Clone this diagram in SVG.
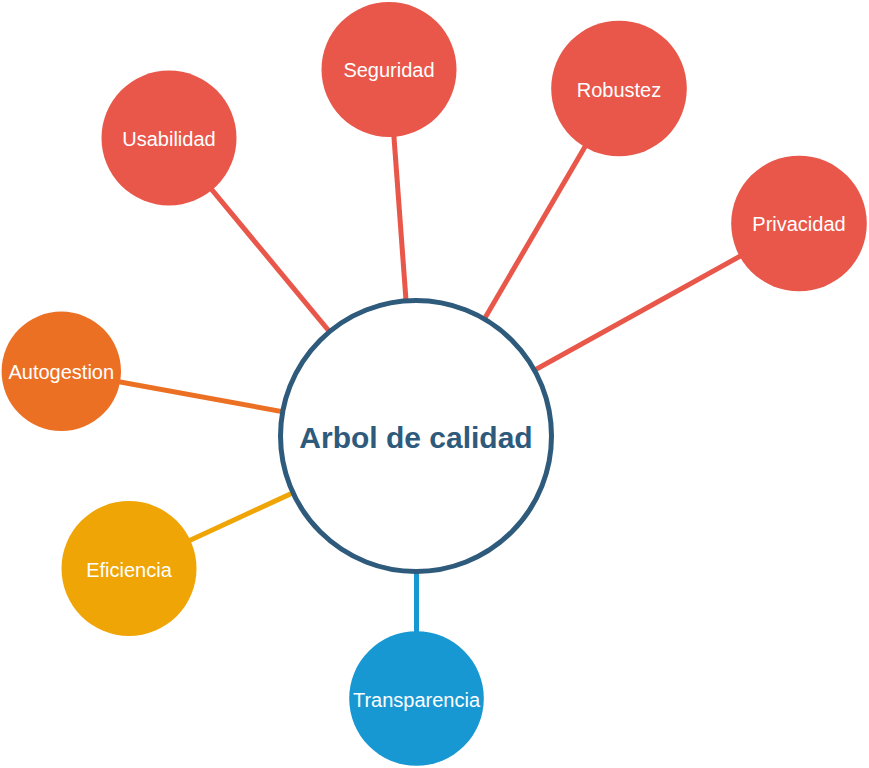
<svg xmlns="http://www.w3.org/2000/svg" width="869" height="768" viewBox="0 0 869 768">
<style>
.lbl{font-family:"Liberation Sans",Arial,sans-serif;font-size:20px;fill:#ffffff;text-anchor:middle;dominant-baseline:central}
.conn{stroke-width:5;fill:none}
.red{fill:#E8574A}.redl{stroke:#E8574A}
.org{fill:#EC7024}.orgl{stroke:#EC7024}
.yel{fill:#F0A506}.yell{stroke:#F0A506}
.blu{fill:#1798D2}.blul{stroke:#1798D2}
</style>
<rect width="869" height="768" fill="#ffffff"/>
<g id="connectors">
<line class="conn redl" x1="169" y1="138" x2="416" y2="436"/>
<line class="conn redl" x1="389" y1="69.5" x2="416" y2="436"/>
<line class="conn redl" x1="619" y1="88.5" x2="416" y2="436"/>
<line class="conn redl" x1="799" y1="223.5" x2="416" y2="436"/>
<line class="conn orgl" x1="61.3" y1="371.3" x2="416" y2="436"/>
<line class="conn yell" x1="129" y1="568.5" x2="416" y2="436"/>
<line class="conn blul" x1="416.5" y1="698.5" x2="416.5" y2="436"/>
</g>
<g id="center">
<circle cx="416" cy="436" r="135.5" fill="#ffffff" stroke="#2E5A7C" stroke-width="5"/>
<text x="416" y="437" font-family="'Liberation Sans',Arial,sans-serif" font-size="30" font-weight="bold" fill="#2E5A7C" text-anchor="middle" dominant-baseline="central">Arbol de calidad</text>
</g>
<g id="usabilidad"><circle class="red" cx="169" cy="138" r="67.5"/><text class="lbl" x="169" y="139">Usabilidad</text></g>
<g id="seguridad"><circle class="red" cx="389" cy="69.5" r="67.5"/><text class="lbl" x="389" y="70">Seguridad</text></g>
<g id="robustez"><circle class="red" cx="619" cy="88.5" r="67.8"/><text class="lbl" x="619" y="89.5">Robustez</text></g>
<g id="privacidad"><circle class="red" cx="799" cy="223.5" r="67.8"/><text class="lbl" x="799" y="224">Privacidad</text></g>
<g id="autogestion"><circle class="org" cx="61.3" cy="371.3" r="59.7"/><text class="lbl" x="61.3" y="372">Autogestion</text></g>
<g id="eficiencia"><circle class="yel" cx="129" cy="568.5" r="67.5"/><text class="lbl" x="129" y="570">Eficiencia</text></g>
<g id="transparencia"><circle class="blu" cx="416.5" cy="698.5" r="67.3"/><text class="lbl" x="416.5" y="699.5">Transparencia</text></g>
</svg>
